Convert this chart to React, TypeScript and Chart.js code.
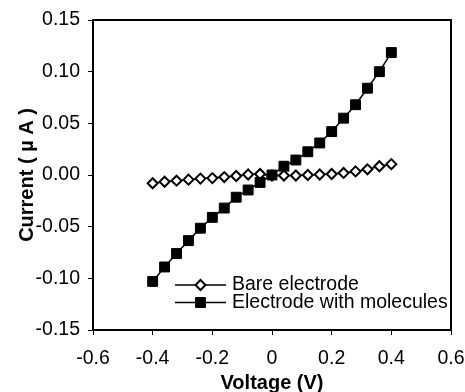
import React, { useEffect, useRef } from "react";
import { Chart, registerables } from "chart.js";

Chart.register(...registerables);

const voltage = [
  -0.4, -0.36, -0.32, -0.28, -0.24, -0.2, -0.16, -0.12, -0.08, -0.04, 0,
  0.04, 0.08, 0.12, 0.16, 0.2, 0.24, 0.28, 0.32, 0.36, 0.4,
];
const bareCurrent = [
  -0.008, -0.0065, -0.0055, -0.0045, -0.0035, -0.003, -0.002, -0.001, 0.0005,
  0.001, -0.0005, -0.0005, -0.0005, 0, 0.0005, 0.001, 0.002, 0.0035, 0.0055,
  0.0085, 0.0105,
];
const moleculeCurrent = [
  -0.103, -0.089, -0.076, -0.0635, -0.0515, -0.041, -0.032, -0.0215, -0.0145,
  -0.0072, 0.0, 0.0085, 0.0145, 0.0225, 0.031, 0.042, 0.055, 0.068, 0.084,
  0.1, 0.1185,
];
const seriesLabels = ["Bare electrode", "Electrode with molecules"];
const xTicks = [-0.6, -0.4, -0.2, 0, 0.2, 0.4, 0.6];
const yTicks = [-0.15, -0.1, -0.05, 0, 0.05, 0.1, 0.15];
const xTitle = "Voltage (V)";
const yTitle = "Current ( µ A )";

const FONT = "'Liberation Sans', Arial, sans-serif";

const frameAndLegend = {
  id: "frameAndLegend",
  afterDraw(chart: any) {
    const { ctx, chartArea } = chart;
    ctx.save();
    ctx.strokeStyle = "#000";
    ctx.lineWidth = 2;
    ctx.strokeRect(
      chartArea.left,
      chartArea.top,
      chartArea.right - chartArea.left,
      chartArea.bottom - chartArea.top
    );
    // legend
    const x0 = chartArea.left + 82;
    const x1 = chartArea.left + 133;
    const xm = (x0 + x1) / 2;
    const rows = [chartArea.top + 265, chartArea.top + 282.5];
    chart.data.datasets.forEach((ds: any, i: number) => {
      const y = rows[i];
      ctx.beginPath();
      ctx.strokeStyle = "#000";
      ctx.lineWidth = 1.5;
      ctx.moveTo(x0, y);
      ctx.lineTo(x1, y);
      ctx.stroke();
      ctx.beginPath();
      ctx.lineWidth = ds.pointBorderWidth;
      ctx.fillStyle = ds.pointBackgroundColor;
      if (ds.pointStyle === "rectRot") {
        const r = ds.pointRadius;
        ctx.moveTo(xm, y - r);
        ctx.lineTo(xm + r, y);
        ctx.lineTo(xm, y + r);
        ctx.lineTo(xm - r, y);
        ctx.closePath();
      } else {
        const s = ds.pointRadius * Math.SQRT1_2;
        ctx.rect(xm - s, y - s, 2 * s, 2 * s);
      }
      ctx.fill();
      ctx.stroke();
      ctx.fillStyle = "#000";
      ctx.font = `19.5px ${FONT}`;
      ctx.textAlign = "left";
      ctx.textBaseline = "middle";
      ctx.fillText(ds.label, x1 + 6, y);
    });
    ctx.restore();
  },
};

export default function App() {
  const ref = useRef<HTMLCanvasElement>(null);
  useEffect(() => {
    if (!ref.current) return;
    const chart = new Chart(ref.current, {
      type: "scatter",
      data: {
        datasets: [
          {
            label: seriesLabels[0],
            data: voltage.map((v, i) => ({ x: v, y: bareCurrent[i] })),
            showLine: true,
            borderColor: "#000",
            borderWidth: 1.5,
            pointStyle: "rectRot",
            pointRadius: 5,
            pointBorderWidth: 2,
            pointBorderColor: "#000",
            pointBackgroundColor: "#fff",
            order: 1,
          },
          {
            label: seriesLabels[1],
            data: voltage.map((v, i) => ({ x: v, y: moleculeCurrent[i] })),
            showLine: true,
            borderColor: "#000",
            borderWidth: 1.5,
            pointStyle: "rect",
            pointRadius: 7,
            pointBorderWidth: 1,
            pointBorderColor: "#000",
            pointBackgroundColor: "#000",
            order: 0,
          },
        ],
      },
      options: {
        animation: false,
        responsive: false,
        layout: { padding: { top: 20, right: 14, left: 0, bottom: 0 } },
        plugins: { legend: { display: false }, tooltip: { enabled: false } },
        scales: {
          x: {
            type: "linear",
            min: -0.6,
            max: 0.6,
            afterBuildTicks: (s: any) => {
              s.ticks = xTicks.map((v) => ({ value: v }));
            },
            afterFit: (s: any) => {
              s.height = 62;
              s.paddingLeft = 0;
              s.paddingRight = 0;
            },
            ticks: {
              color: "#000",
              font: { family: FONT, size: 19.5 },
              padding: 11.5,
              maxRotation: 0,
              callback: (v: any) => String(Number(v)),
            },
            grid: {
              display: true,
              drawOnChartArea: false,
              drawTicks: true,
              tickLength: 5,
              color: "#000",
              lineWidth: 1,
            },
            border: { display: true, color: "#000", width: 2 },
            title: {
              display: true,
              text: xTitle,
              color: "#000",
              font: { family: FONT, size: 20, weight: "bold", lineHeight: 1 },
              padding: { top: 0, bottom: -1 },
            },
          },
          y: {
            type: "linear",
            min: -0.15,
            max: 0.15,
            afterBuildTicks: (s: any) => {
              s.ticks = yTicks.map((v) => ({ value: v }));
            },
            afterFit: (s: any) => {
              s.width = 93;
              s.paddingTop = 0;
              s.paddingBottom = 0;
            },
            ticks: {
              color: "#000",
              font: { family: FONT, size: 19.5 },
              padding: 8,
              callback: (v: any) => Number(v).toFixed(2),
            },
            grid: {
              display: true,
              drawOnChartArea: false,
              drawTicks: true,
              tickLength: 5,
              color: "#000",
              lineWidth: 1,
            },
            border: { display: true, color: "#000", width: 2 },
            title: {
              display: true,
              text: yTitle,
              color: "#000",
              font: { family: FONT, size: 20, weight: "bold", lineHeight: 1.2 },
              padding: { top: 15, bottom: 0 },
            },
          },
        },
      },
      plugins: [frameAndLegend],
    });
    return () => chart.destroy();
  }, []);
  return (
    <div style={{ position: "fixed", left: 0, top: 0, width: 465, height: 392, background: "#fff" }}>
      <canvas ref={ref} width={465} height={392} />
    </div>
  );
}
